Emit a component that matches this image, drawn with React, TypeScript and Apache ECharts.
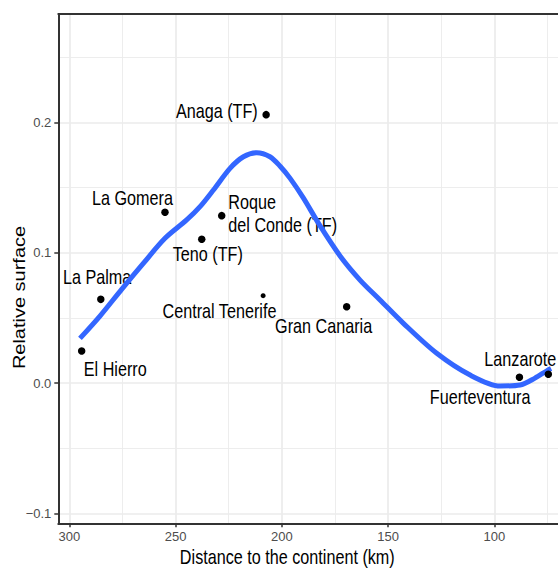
import React, { useEffect, useRef } from "react";
import * as echarts from "echarts";

// ---- data ----
const islands = [
  "El Hierro",
  "La Palma",
  "La Gomera",
  "Teno (TF)",
  "Roque\ndel Conde (TF)",
  "Anaga (TF)",
  "Central Tenerife",
  "Gran Canaria",
  "Fuerteventura",
  "Lanzarote",
];
const distance = [294.2, 285.2, 255.0, 237.7, 228.3, 207.4, 208.8, 169.5, 88.2, 74.6];
const surface = [0.0246, 0.0642, 0.131, 0.1103, 0.1284, 0.2059, 0.067, 0.0585, 0.0044, 0.0067];

// loess smoother
const smoothX = [295.0, 285.6, 275.3, 265.2, 255.0, 244.8, 238.5, 232.2, 224.4, 218.1, 211.8, 205.6, 200.9, 196.1, 189.9, 182.0, 172.6, 163.2, 153.8, 142.8, 127.1, 111.4, 97.3, 87.9, 80.9, 75.3, 73.3];
const smoothY = [0.0343, 0.0514, 0.0721, 0.0918, 0.111, 0.1251, 0.1353, 0.1481, 0.1647, 0.1736, 0.1767, 0.1736, 0.1665, 0.157, 0.142, 0.1205, 0.0975, 0.079, 0.0637, 0.0458, 0.0228, 0.0061, -0.0023, -0.0015, 0.0038, 0.0094, 0.0111];

const xMajor = [100, 150, 200, 250, 300];
const xMinor = [75, 125, 175, 225, 275];
const yMajor = [-0.1, 0, 0.1, 0.2];
const yMinor = [-0.05, 0.05, 0.15, 0.25];

const xTitle = "Distance to the continent (km)";
const yTitle = "Relative surface";

// ---- styling (label placement relative to each point) ----
const labelStyle: Record<string, { dx: number; dy: number; align: string }> = {
  "El Hierro": { dx: 33.6, dy: 19, align: "center" },
  "La Palma": { dx: -3.7, dy: -21.8, align: "center" },
  "La Gomera": { dx: -32.5, dy: -14, align: "center" },
  "Teno (TF)": { dx: 6, dy: 15.7, align: "center" },
  "Roque\ndel Conde (TF)": { dx: 6.6, dy: -1.7, align: "left" },
  "Anaga (TF)": { dx: -49.3, dy: -3, align: "center" },
  "Central Tenerife": { dx: -43.7, dy: 15.3, align: "center" },
  "Gran Canaria": { dx: -23, dy: 20, align: "center" },
  Fuerteventura: { dx: -39.3, dy: 20.5, align: "center" },
  Lanzarote: { dx: -64, dy: -15.3, align: "left" },
};
const dotSize: Record<string, number> = { "Central Tenerife": 5 };

const SANS = "'Liberation Sans', Arial, Helvetica, sans-serif";
const SQUEEZE = 0.83; // the reference's text is horizontally condensed

export default function App() {
  const ref = useRef<HTMLDivElement>(null);

  useEffect(() => {
    document.body.style.margin = "0";
    if (!ref.current) return;
    const chart = echarts.init(ref.current, null, { renderer: "svg" });

    const gl = (major: boolean) => ({
      color: "#EBEBEB",
      width: major ? 1.7 : 0.9,
      type: "solid" as const,
    });
    const markData = [
      ...xMinor.map((v) => ({ xAxis: v, lineStyle: gl(false) })),
      ...yMinor.map((v) => ({ yAxis: v, lineStyle: gl(false) })),
      ...xMajor.map((v) => ({ xAxis: v, lineStyle: gl(true) })),
      ...yMajor.map((v) => ({ yAxis: v, lineStyle: gl(true) })),
    ];

    const points = islands.map((n, i) => [distance[i], surface[i]]);
    const axisLineStyle = { color: "#333333", width: 2 };
    const xMin = 70.05;
    const xMax = 305.2;

    chart.setOption({
      animation: false,
      grid: {
        left: 58.3,
        top: 14,
        right: 0,
        height: 509.3,
        show: false,
      },
      xAxis: [
        {
          type: "value",
          inverse: true,
          min: xMin,
          max: xMax,
          axisLine: { show: true, onZero: false, lineStyle: axisLineStyle },
          splitLine: { show: false },
          axisTick: {
            show: true,
            customValues: xMajor,
            length: 4,
            lineStyle: { color: "#333333", width: 1.5 },
          },
          axisLabel: {
            customValues: xMajor,
            color: "#4D4D4D",
            fontSize: 13,
            fontFamily: SANS,
            margin: 7,
          },
        },
        {
          type: "value",
          position: "top",
          inverse: true,
          min: xMin,
          max: xMax,
          axisLine: { show: true, onZero: false, lineStyle: axisLineStyle },
          splitLine: { show: false },
          axisTick: { show: false },
          axisLabel: { show: false },
        },
      ],
      yAxis: {
        type: "value",
        min: -0.1076,
        max: 0.2831,
        axisLine: { show: true, onZero: false, lineStyle: axisLineStyle },
        splitLine: { show: false },
        axisTick: {
          show: true,
          customValues: yMajor,
          length: 4,
          lineStyle: { color: "#333333", width: 1.5 },
        },
        axisLabel: {
          customValues: yMajor,
          color: "#4D4D4D",
          fontSize: 13,
          fontFamily: SANS,
          margin: 7,
          formatter: (v: number) => v.toFixed(1).replace("-", "\u2212"),
        },
      },
      series: [
        {
          type: "scatter",
          name: "grid",
          z: 0,
          silent: true,
          symbolSize: 0,
          itemStyle: { color: "transparent" },
          data: [] as number[][],
          markLine: {
            silent: true,
            z: 0,
            symbol: ["none", "none"],
            label: { show: false },
            animation: false,
            emphasis: { disabled: true },
            data: markData,
          },
        },
        {
          type: "line",
          name: "smooth",
          z: 2,
          silent: true,
          smooth: 0.3,
          showSymbol: false,
          symbol: "none",
          lineStyle: { color: "#3366FF", width: 5 },
          data: smoothX.map((x, i) => [x, smoothY[i]]),
        },
        {
          type: "scatter",
          name: "points",
          z: 3,
          silent: true,
          itemStyle: { color: "#000000", opacity: 1 },
          data: islands.map((n, i) => ({
            name: n,
            value: points[i],
            symbolSize: dotSize[n] ?? 7.5,
          })),
        },
      ],
    });

    // text labels placed through the chart's own scales
    const labelEls = islands.map((n, i) => {
      const p = chart.convertToPixel({ xAxisIndex: 0, yAxisIndex: 0 }, points[i]) as number[];
      const s = labelStyle[n];
      return {
        type: "text",
        x: p[0] + s.dx,
        y: p[1] + s.dy,
        z: 1,
        scaleX: SQUEEZE,
        silent: true,
        style: {
          text: n,
          fontSize: 19.5,
          lineHeight: 24,
          fontFamily: SANS,
          fill: "#000000",
          align: s.align,
          verticalAlign: "middle",
        },
      };
    });

    chart.setOption({
      graphic: [
        {
          type: "text",
          x: 287.3,
          y: 557.5,
          scaleX: SQUEEZE,
          silent: true,
          style: {
            text: xTitle,
            fontSize: 19.5,
            fontFamily: SANS,
            fill: "#000000",
            align: "center",
            verticalAlign: "middle",
          },
        },
        {
          type: "text",
          x: 19,
          y: 297.5,
          rotation: Math.PI / 2,
          scaleY: SQUEEZE,
          silent: true,
          style: {
            text: yTitle,
            fontSize: 20,
            fontFamily: SANS,
            fill: "#000000",
            align: "center",
            verticalAlign: "middle",
          },
        },
        ...labelEls,
      ],
    });

    return () => chart.dispose();
  }, []);

  return <div ref={ref} style={{ width: 558, height: 569 }} />;
}
